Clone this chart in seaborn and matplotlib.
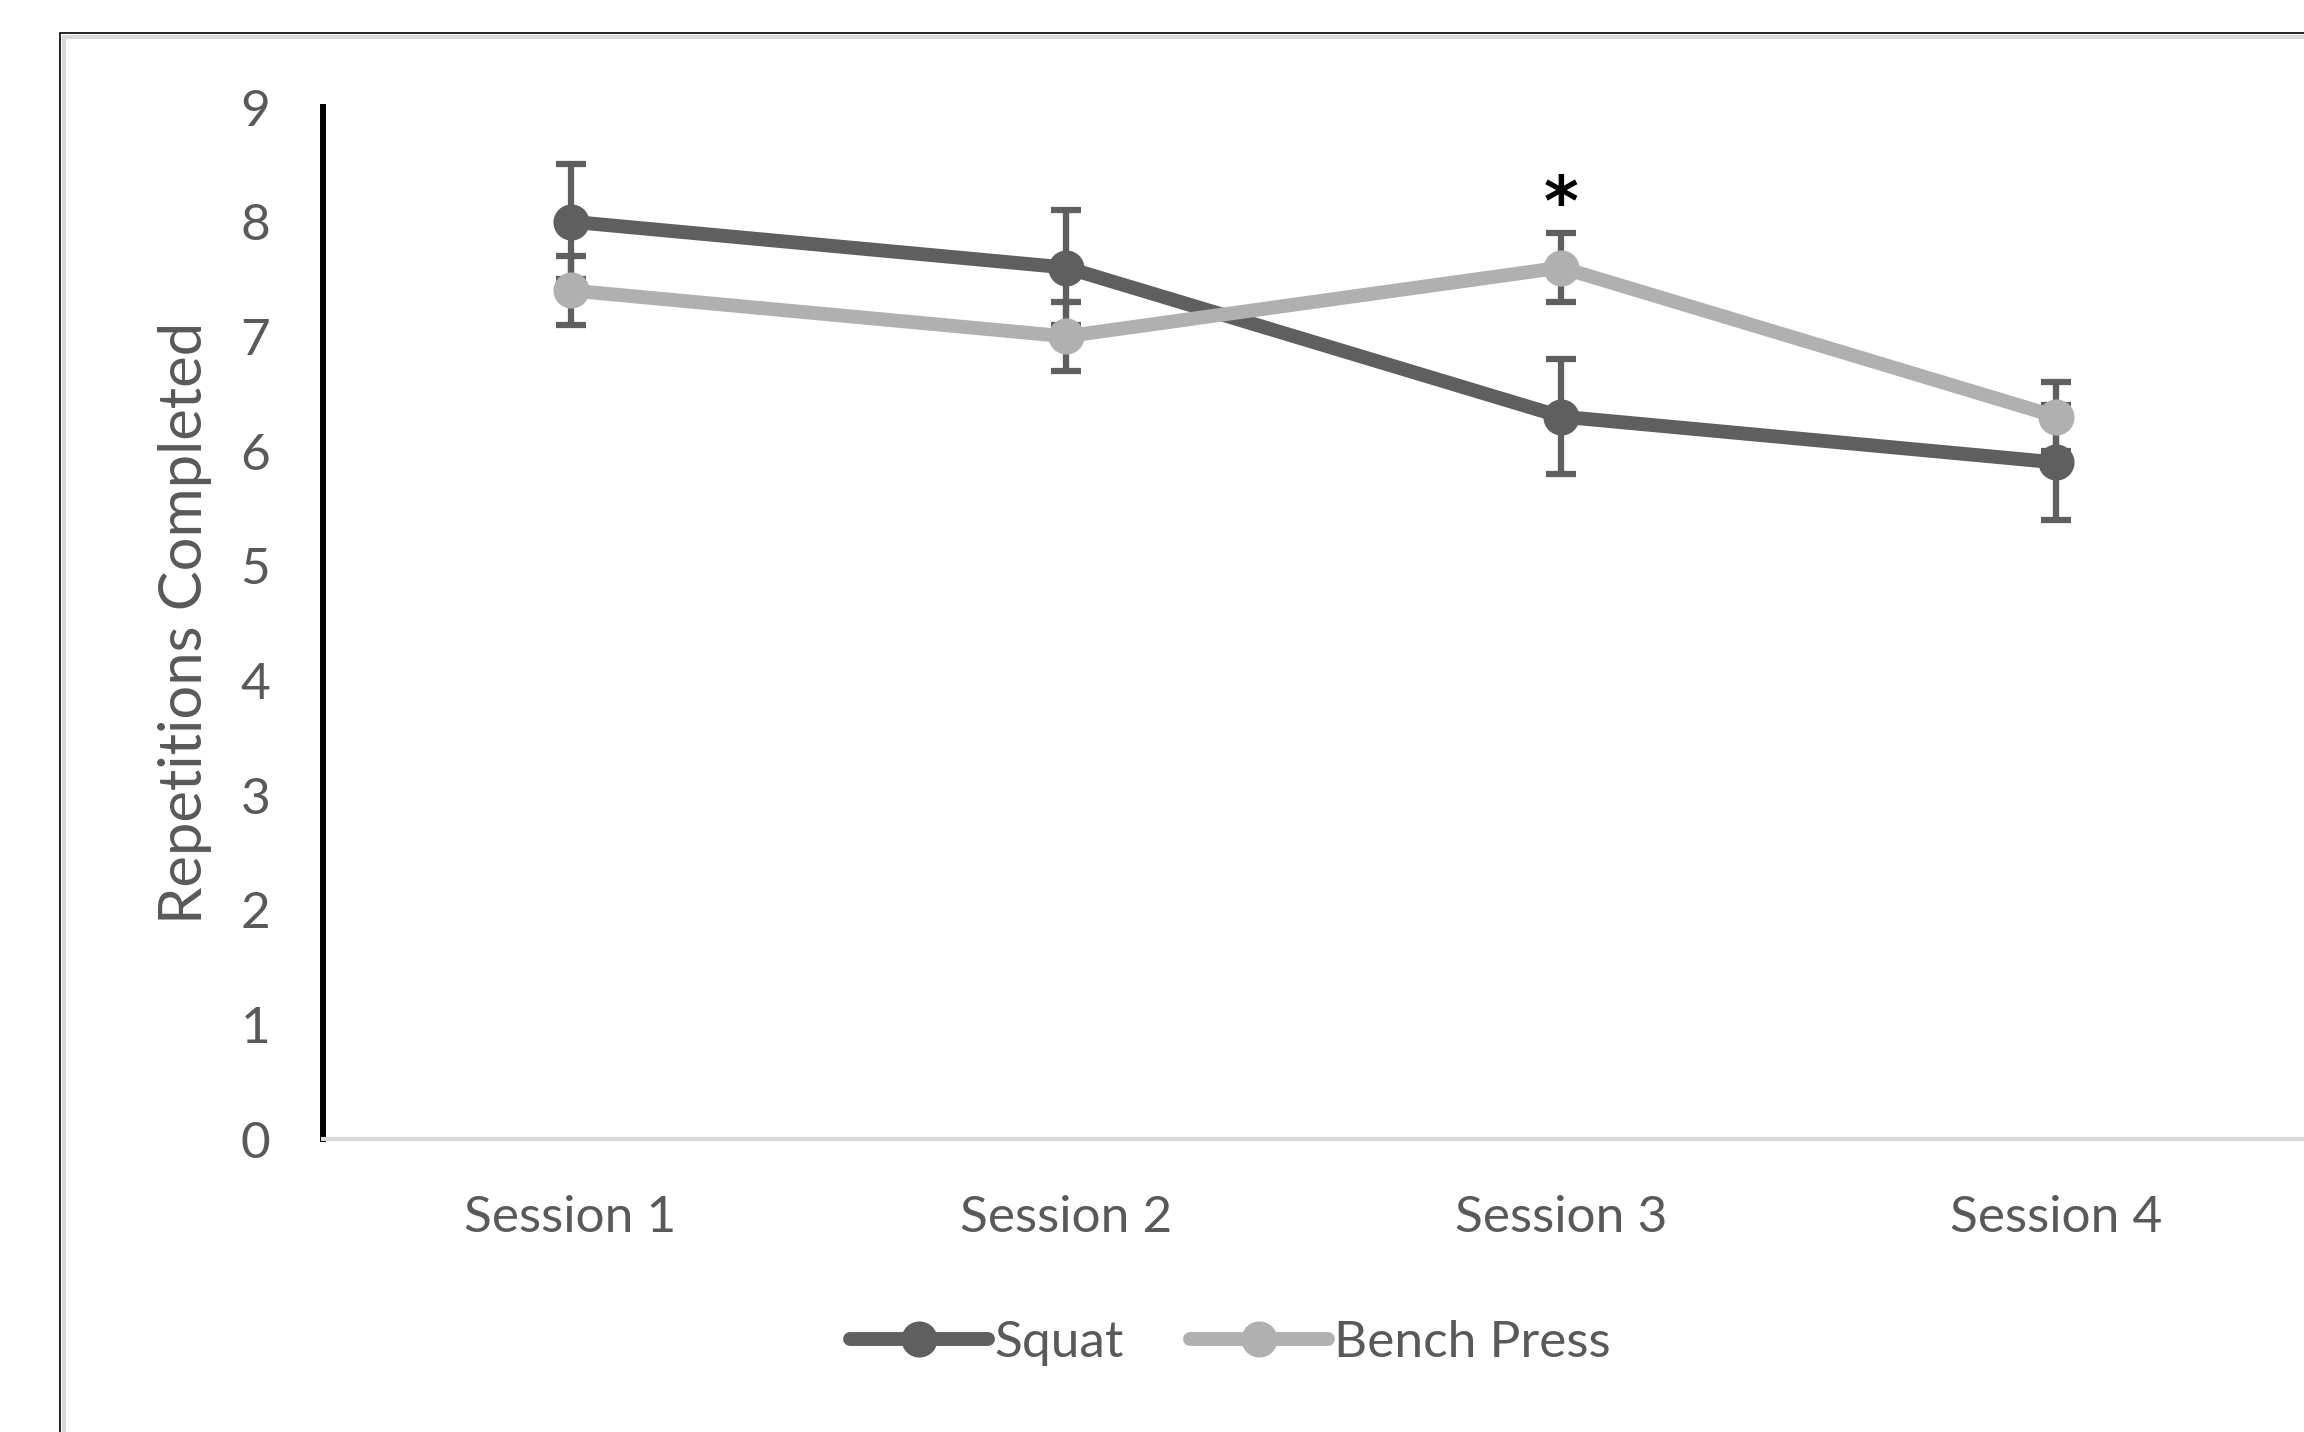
import matplotlib.pyplot as plt
import seaborn as sns
import pandas as pd
import numpy as np
from matplotlib.lines import Line2D

sns.set_theme(style="white")
plt.rcParams["font.family"] = ["Lato", "DejaVu Sans"]

sessions = ["Session 1", "Session 2", "Session 3", "Session 4"]
squat = [8.0, 7.6, 6.3, 5.9]
squat_err = [0.5, 0.5, 0.5, 0.5]
bench = [7.4, 7.0, 7.6, 6.3]
bench_err = [0.3, 0.3, 0.3, 0.3]
series = ["Squat", "Bench Press"]
colors = {"Squat": "#5f5f5f", "Bench Press": "#b0b0b0"}

df = pd.DataFrame({
    "session": sessions * 2,
    "pos": list(range(len(sessions))) * 2,
    "reps": squat + bench,
    "err": squat_err + bench_err,
    "exercise": ["Squat"] * len(sessions) + ["Bench Press"] * len(sessions),
})

text_col = "#595959"
fs = 37

fig = plt.figure(figsize=(23.04, 14.32), dpi=100)
ax = fig.add_axes([323 / 2304, 1 - 1139 / 1432, 1 - 323 / 2304, (1139 - 107) / 1432])

# error bars first, all in dark grey
for name in series:
    sub = df[df["exercise"] == name]
    ax.errorbar(sub["pos"], sub["reps"], yerr=sub["err"], fmt="none",
                ecolor="#5f5f5f", elinewidth=4.5, capsize=11, capthick=4.5, zorder=2)

sns.lineplot(data=df, x="pos", y="reps", hue="exercise", palette=colors,
             hue_order=series, marker="o", markersize=26, markeredgewidth=0,
             linewidth=10, ax=ax, legend=False, zorder=3)
# bench press line on top
for ln in ax.lines:
    if ln.get_color() == colors["Bench Press"]:
        ln.set_zorder(4)

ax.set_xlim(-0.5, 3.5)
ax.set_ylim(0, 9)
ax.set_yticks(range(0, 10))
ax.set_xticks(range(len(sessions)))
ax.set_xticklabels(sessions)
ax.tick_params(axis="both", length=0, labelsize=fs, labelcolor=text_col)
ax.tick_params(axis="y", pad=38)
ax.tick_params(axis="x", pad=40)
ax.set_xlabel("")
ax.set_ylabel("Repetitions Completed", fontsize=43, color=text_col)
ax.yaxis.set_label_coords(-0.056, 0.5)

for s in ["top", "right"]:
    ax.spines[s].set_visible(False)
ax.spines["left"].set_color("black")
ax.spines["left"].set_linewidth(4.3)
ax.spines["bottom"].set_color("#d9d9d9")
ax.spines["bottom"].set_linewidth(3)
ax.grid(False)

ax.text(2, 8.14, "*", ha="center", va="center", fontsize=48,
        fontweight="bold", color="black", family="DejaVu Sans")

# chart frame (cut off at right and bottom)
fx0, fy0 = 60 / 2304, 1 - 33 / 1432
fig.add_artist(Line2D([fx0, fx0], [0, fy0], color="black", lw=1.2))
fig.add_artist(Line2D([fx0, 1], [fy0, fy0], color="black", lw=1.2))
gx0, gy0 = 64 / 2304, 1 - 37 / 1432
fig.add_artist(Line2D([gx0, gx0], [0, gy0], color="#d9d9d9", lw=3))
fig.add_artist(Line2D([gx0, 1], [gy0, gy0], color="#d9d9d9", lw=3))

handles = [Line2D([], [], color=colors[n], lw=10, marker="o", markersize=26,
                  markeredgewidth=0, solid_capstyle="round") for n in series]
fig.legend(handles, series, loc="center", bbox_to_anchor=(0.534, 0.062), ncol=2,
           frameon=False, fontsize=fs, labelcolor=text_col, handlelength=2.68,
           handletextpad=0.12, columnspacing=1.3, numpoints=1)

fig.savefig("out.png", dpi=100)
